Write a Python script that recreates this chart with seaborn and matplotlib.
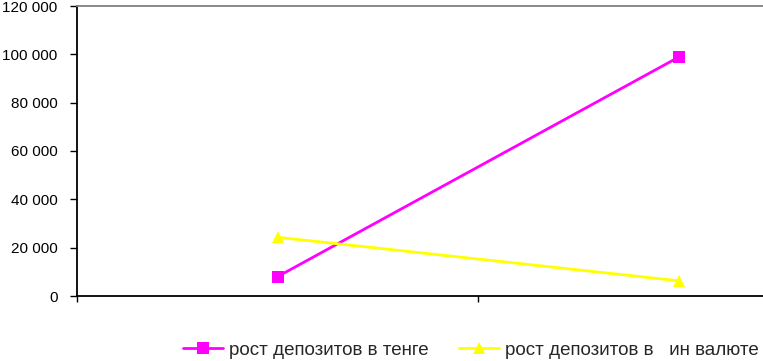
import matplotlib
matplotlib.use("Agg")
import matplotlib.pyplot as plt
import seaborn as sns
import pandas as pd
from matplotlib.ticker import FuncFormatter

periods = ["p1", "p2"]
tenge = [8000, 98800]
foreign = [24300, 6300]
series_names = ["рост депозитов в тенге", "рост депозитов в   ин валюте"]

df = pd.DataFrame({
    "period": periods * 2,
    "value": tenge + foreign,
    "series": [series_names[0]] * 2 + [series_names[1]] * 2,
})
df["x"] = df["period"].map({p: i for i, p in enumerate(periods)})

sns.set_theme(style="white")
plt.rcParams["font.family"] = ["Liberation Sans", "DejaVu Sans"]

fig = plt.figure(figsize=(7.63, 3.61), dpi=100)
ax = fig.add_axes([77 / 763, 65 / 361, 802 / 763, 290 / 361])

sns.lineplot(data=df, x="x", y="value", hue="series", style="series",
             palette=["#FF00FF", "#FFFF00"], markers=["s", "^"], dashes=False,
             markersize=8, linewidth=2, markeredgewidth=0, ax=ax, legend=True)

ax.set_xlim(-0.5, 1.5)
ax.set_ylim(0, 120000)
ax.set_yticks(range(0, 120001, 20000))
ax.yaxis.set_major_formatter(FuncFormatter(lambda v, p: f"{int(v):,}".replace(",", " ")))
ax.set_xticks([-0.5, 0.5, 1.5])
ax.set_xticklabels([])
ax.set_xlabel("")
ax.set_ylabel("")
ax.tick_params(axis="y", which="both", direction="out", length=5, width=1, color="black",
               labelsize=11, labelcolor="black", pad=9, left=True)
ax.tick_params(axis="x", direction="out", length=4, width=1, color="black", bottom=True)

for s in ["left", "bottom"]:
    ax.spines[s].set_color("black")
    ax.spines[s].set_linewidth(1.3)
ax.spines["top"].set_color("#808080")
ax.spines["top"].set_linewidth(1.3)
ax.spines["right"].set_visible(False)
ax.grid(False)

handles, labels = ax.get_legend_handles_labels()
ax.get_legend().remove()
fig.legend(handles, labels, loc="center", bbox_to_anchor=(0.617, 0.03), ncol=2,
           frameon=False, fontsize=13.5, handlelength=2.13, handletextpad=0.32,
           columnspacing=1.65, borderaxespad=0)

fig.savefig("out.png", dpi=100)
